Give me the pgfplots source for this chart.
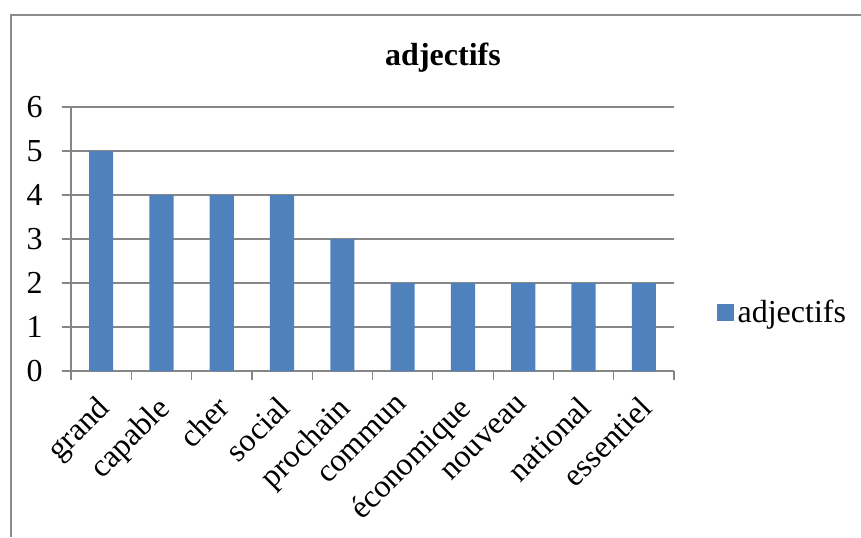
\documentclass[border=0pt]{standalone}
\usepackage{fontspec}
\setmainfont{Liberation Serif}
\usepackage{pgfplots}
\pgfplotsset{compat=1.18}

\definecolor{barblue}{HTML}{4F81BD}
\definecolor{gridgray}{RGB}{134,134,134}
\definecolor{framegray}{RGB}{140,140,140}

\begin{document}
\begin{tikzpicture}
  % canvas: 861x537 px at 0.5pt per px
  \useasboundingbox (0,0) rectangle (430.5pt,268.5pt);
  \draw[framegray, line width=0.6pt] (5.5pt,0) -- (5.5pt,261pt) -- (430.5pt,261pt);

  \node[anchor=base, font=\fontsize{16}{19}\selectfont\bfseries] at (221.5pt,236pt) {adjectifs};

  \begin{axis}[
    at={(35.5pt,83pt)}, anchor=south west,
    scale only axis,
    width=301.5pt, height=132pt,
    ybar, bar width=0.4,
    xmin=-0.5, xmax=9.5,
    ymin=0, ymax=6,
    xtick={0,...,9},
    xticklabels={grand,capable,cher,social,prochain,commun,économique,nouveau,national,essentiel},
    minor xtick={-0.5,0.5,...,9.5},
    major x tick style={draw=none},
    minor x tick style={gridgray, line width=0.6pt},
    minor tick length=4.5pt,
    ytick={0,...,6},
    major tick length=4.5pt,
    ytick style={gridgray, line width=0.6pt},
    tick align=outside,
    axis x line*=bottom, axis y line*=left,
    axis line style={gridgray, line width=0.6pt, -},
    ymajorgrids,
    y grid style={gridgray, line width=0.6pt},
    tick label style={font=\fontsize{16}{19}\selectfont},
    /pgf/number format/assume math mode=true,
    yticklabel style={anchor=east, inner sep=0pt},
    yticklabel shift=9.5pt,
    xticklabel shift=7pt,
    xticklabel style={xshift=-3pt, rotate=45, anchor=north east, inner sep=0pt},
    legend style={at={(1.07,0.222)}, anchor=west, draw=none, fill=none,
      font=\fontsize{16}{19}\selectfont, inner sep=0pt},
    legend image code/.code={\fill[barblue] (0pt,-4.25pt) rectangle (8.5pt,4.25pt);},
  ]
    \addplot[fill=barblue, draw=none] coordinates {
      (0,5) (1,4) (2,4) (3,4) (4,3) (5,2) (6,2) (7,2) (8,2) (9,2)
    };
    \addlegendentry{adjectifs}
  \end{axis}
\end{tikzpicture}
\end{document}
